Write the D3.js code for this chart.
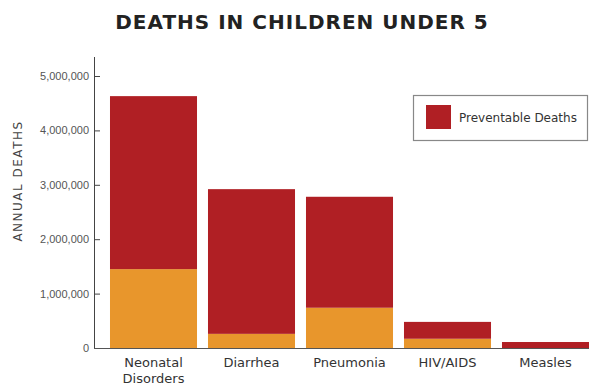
<!DOCTYPE html>
<html>
<head>
<meta charset="utf-8">
<script src="https://cdn.jsdelivr.net/npm/d3@7"></script>
<style>
  body { margin: 0; background: #fff; }
  svg { display: block; font-family: "DejaVu Sans", sans-serif; }
</style>
</head>
<body>
<div id="chart"></div>
<script>
// values
const causes = ["Neonatal Disorders", "Diarrhea", "Pneumonia", "HIV/AIDS", "Measles"];
const otherDeaths = [1450000, 260000, 740000, 170000, 0];
const preventableDeaths = [3180000, 2660000, 2040000, 310000, 110000];
const yTicks = [0, 1000000, 2000000, 3000000, 4000000, 5000000];

const width = 589;
const height = 389;

const rows = causes.map((c, i) => ({ cause: c, other: otherDeaths[i], preventable: preventableDeaths[i] }));
const stacked = d3.stack().keys(["other", "preventable"])(rows);
const colors = { other: "#e8962c", preventable: "#b01f24" };

const svg = d3.select("#chart").append("svg")
  .attr("width", width)
  .attr("height", height);

const x = d3.scaleBand()
  .domain(causes)
  .range([104.5, 594.5])
  .paddingInner(0.112)
  .paddingOuter(0.056);

const y = d3.scaleLinear()
  .domain([0, 5000000])
  .range([348, 76]);

// title
svg.append("text")
  .attr("x", 302)
  .attr("y", 29)
  .attr("text-anchor", "middle")
  .attr("font-size", 20)
  .attr("font-weight", "bold")
  .attr("letter-spacing", 1)
  .attr("fill", "#222")
  .text("DEATHS IN CHILDREN UNDER 5");

// bars
svg.append("g")
  .selectAll("g")
  .data(stacked)
  .join("g")
  .attr("fill", d => colors[d.key])
  .selectAll("rect")
  .data(d => d)
  .join("rect")
  .attr("x", d => x(d.data.cause))
  .attr("width", x.bandwidth())
  .attr("y", d => y(d[1]))
  .attr("height", d => y(d[0]) - y(d[1]));

// y axis
const yAxis = svg.append("g")
  .attr("transform", "translate(94,0)")
  .call(d3.axisRight(y).tickValues(yTicks).tickSize(6).tickFormat(d3.format(",")));
yAxis.select(".domain").remove();
yAxis.selectAll("line").attr("stroke", "#444");
yAxis.selectAll("text")
  .attr("x", -5)
  .attr("text-anchor", "end")
  .attr("font-size", 11)
  .attr("fill", "#555");

svg.append("line")
  .attr("x1", 94.5).attr("x2", 94.5)
  .attr("y1", 57).attr("y2", 348.5)
  .attr("stroke", "#444");

svg.append("line")
  .attr("x1", 94).attr("x2", width)
  .attr("y1", 348.5).attr("y2", 348.5)
  .attr("stroke", "#555");

// x labels
svg.append("g")
  .selectAll("text")
  .data(causes)
  .join("text")
  .attr("x", d => x(d) + x.bandwidth() / 2)
  .attr("y", 367)
  .attr("text-anchor", "middle")
  .attr("font-size", 13)
  .attr("fill", "#333")
  .each(function (d) {
    const words = d === "Neonatal Disorders" ? ["Neonatal", "Disorders"] : [d];
    d3.select(this).selectAll("tspan")
      .data(words)
      .join("tspan")
      .attr("x", x(d) + x.bandwidth() / 2)
      .attr("dy", (w, i) => i === 0 ? 0 : 16)
      .text(w => w);
  });

// y axis title
svg.append("text")
  .attr("transform", "translate(22,181) rotate(-90)")
  .attr("text-anchor", "middle")
  .attr("font-size", 12)
  .attr("letter-spacing", 1.5)
  .attr("fill", "#444")
  .text("ANNUAL DEATHS");

// legend
const legend = svg.append("g");
legend.append("rect")
  .attr("x", 413.5).attr("y", 95.5)
  .attr("width", 174).attr("height", 45)
  .attr("fill", "#fff")
  .attr("stroke", "#888")
  .attr("stroke-width", 1.2);
legend.append("rect")
  .attr("x", 426).attr("y", 105)
  .attr("width", 25).attr("height", 24)
  .attr("fill", colors.preventable);
legend.append("text")
  .attr("x", 459).attr("y", 121.5)
  .attr("font-size", 12)
  .attr("fill", "#333")
  .text("Preventable Deaths");
</script>
</body>
</html>
